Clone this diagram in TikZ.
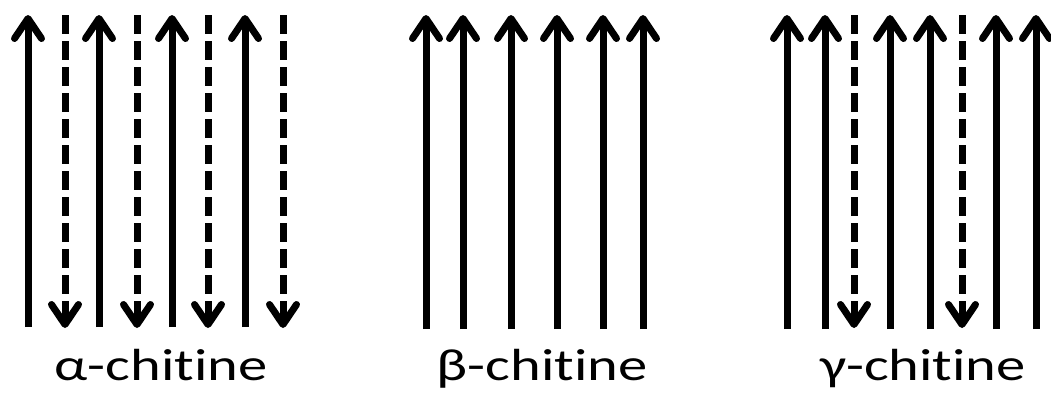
\documentclass[tikz,border=0pt]{standalone}
\usepackage{fontspec}
\setmainfont[Ligatures=NoCommon]{Carlito}
\usepackage{graphicx}
\usetikzlibrary{arrows.meta}
\tikzset{
	strand/.style={line width=7pt, -{Straight Barb[length=20pt, width=27pt, round]}},
	upstrand/.style={strand},
	downstrand/.style={strand, dash pattern=on 19pt off 7pt},
	lbl/.style={anchor=base, inner sep=0pt, font=\fontsize{45}{54}\selectfont},
}

\begin{document}
\begin{tikzpicture}[x=1pt, y=-1pt]
	\useasboundingbox (0,0) rectangle (1051,392);
	
	% alpha: antiparallel
	\foreach \x in {28,99,172,245}
		\draw[upstrand] (\x,327) -- (\x,15);
	\foreach \x in {65,137,208,283}
		\draw[downstrand] (\x,15) -- (\x,328);
	\node[lbl] (alpha) at (161,380) {\scalebox{1.3}[1]{α-chitine}};
	
	% beta: parallel
	\foreach \x in {426,463,511,557,603,643}
		\draw[upstrand] (\x,329) -- (\x,15);
	\node[lbl] (beta) at (542,380) {\scalebox{1.3}[1]{β-chitine}};
	
	% gamma: two up, one down
	\foreach \x in {787,825,890,930,996,1036}
		\draw[upstrand] (\x,329) -- (\x,15);
	\foreach \x in {854,962}
		\draw[downstrand] (\x,15) -- (\x,328);
	\node[lbl] (gamma) at (923,380) {\scalebox{1.3}[1]{γ-chitine}};
\end{tikzpicture}
\end{document}
